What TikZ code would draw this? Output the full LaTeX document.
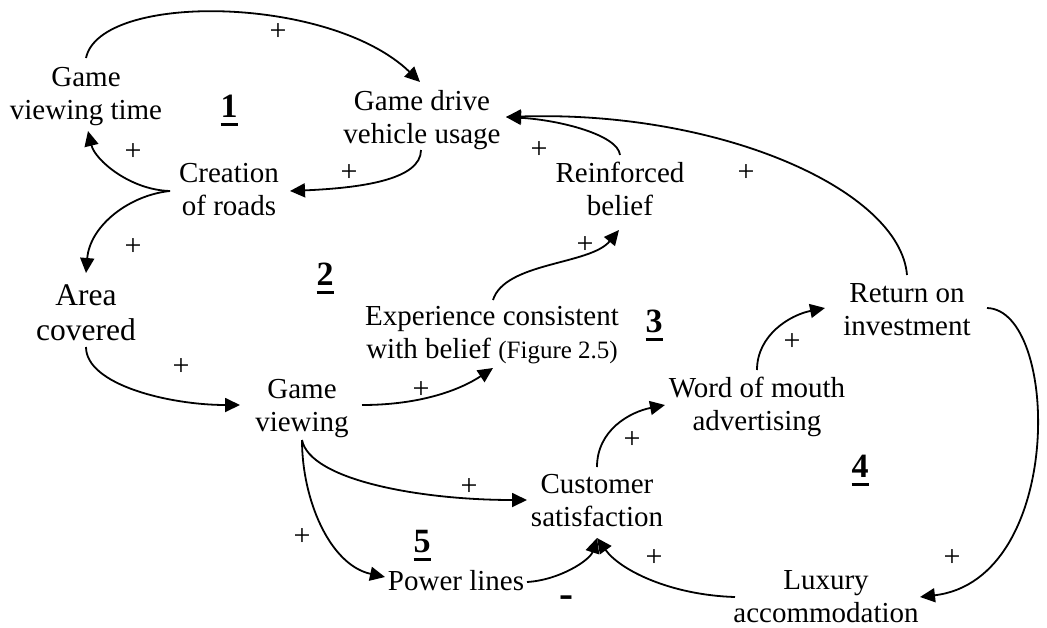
\documentclass[tikz,border=0pt]{standalone}
\usepackage{fontspec}
\setmainfont{Liberation Serif}
\usetikzlibrary{arrows.meta}
% two centred lines, the box's baseline is the first line's baseline
\newcommand\twoline[2]{\vtop{\halign{\hfil##\hfil\cr #1\cr #2\cr}}}
% bold loop number with a heavy underline
\newcommand\loopnum[1]{\setbox0\hbox{\textbf{#1}}\rlap{\rule[-8.5pt]{\wd0}{3pt}}\box0}
\begin{document}
\begin{tikzpicture}[x=1pt,y=-1pt,
  var/.style={inner sep=0pt, anchor=base, font=\fontsize{29}{33}\selectfont},
  bigvar/.style={var, font=\fontsize{31.5}{35}\selectfont},
  pol/.style={inner sep=0pt, font=\fontsize{30}{32}\selectfont},
  neg/.style={inner sep=0pt, anchor=base, font=\fontsize{42}{44}\selectfont\bfseries},
  loopid/.style={inner sep=0pt, anchor=base, font=\fontsize{34}{38}\selectfont},
  link/.style={line width=1.8pt, -{Triangle[length=15pt,width=14pt]}},
]
\useasboundingbox (0,0) rectangle (1047,627);

% variables
\node[var]    (gvt) at (86,86)   {\twoline{Game}{viewing time}};
\node[var]    (gdv) at (422,110) {\twoline{Game drive}{vehicle usage}};
\node[var]    (cor) at (229,182) {\twoline{Creation}{of roads}};
\node[bigvar] (ac)  at (86,305)  {\twoline{Area}{covered}};
\node[var]    (rb)  at (620,182) {\twoline{Reinforced}{belief}};
\node[var]    (roi) at (907,302) {\twoline{Return on}{investment}};
\node[var]    (gv)  at (302,398) {\twoline{Game}{viewing}};
\node[var]    (ecb) at (492,325) {\twoline{Experience consistent}{with belief {\fontsize{25}{28}\selectfont(Figure 2.5)}}};
\node[var]    (cs)  at (597,493) {\twoline{Customer}{satisfaction}};
\node[var]    (wom) at (757,397) {\twoline{Word of mouth}{advertising}};
\node[var]    (la)  at (826,589) {\twoline{Luxury}{accommodation}};
\node[var]    (pl)  at (456,590) {Power lines};

% loop numbers
\node[loopid] (l1) at (229,117) {\loopnum{1}};
\node[loopid] (l2) at (325,285) {\loopnum{2}};
\node[loopid] (l3) at (654,332) {\loopnum{3}};
\node[loopid] (l4) at (860,477) {\loopnum{4}};
\node[loopid] (l5) at (422,552) {\loopnum{5}};

% causal links
\draw[link] ([shift={(0,-28)}]gvt.base) .. controls +(14,-66) and +(-90,-87) .. ([shift={(-2,-28)}]gdv.base);
\draw[link] ([shift={(-1,40)}]gdv.base) .. controls +(0,30) and +(70,-3) .. ([shift={(61,9)}]cor.base);
\draw[link] ([shift={(-59,9)}]cor.base) .. controls +(-40,-1) and +(7,29) .. ([shift={(2,45)}]gvt.base);
\draw[link] ([shift={(-59,9)}]cor.base) .. controls +(-40,4) and +(4,-48) .. ([shift={(0,-32)}]ac.base);
\draw[link] ([shift={(0,-27)}]rb.base) .. controls +(-2,-20) and +(54,3) .. ([shift={(84,7)}]gdv.base);
\draw[link] ([shift={(0,-27)}]roi.base) .. controls +(-7,-85) and +(214,-7) .. ([shift={(84,7)}]gdv.base);
\draw[link] ([shift={(1,-25)}]ecb.base) .. controls +(12,-38) and +(-29,35) .. ([shift={(-1,48)}]rb.base);
\draw[link] ([shift={(0,42)}]ac.base) .. controls +(0,38) and +(-70,0) .. ([shift={(-62,7)}]gv.base);
\draw[link] ([shift={(60,7)}]gv.base) .. controls +(58,0) and +(-33,22) .. ([shift={(1,43)}]ecb.base);
\draw[link] ([shift={(0,42)}]gv.base) .. controls +(8,40) and +(-107,0) .. ([shift={(-70,7)}]cs.base);
\draw[link] ([shift={(0,42)}]gv.base) .. controls +(0,60) and +(-55,-12) .. ([shift={(-71,-13)}]pl.base);
\draw[link] ([shift={(71,-8)}]pl.base) .. controls +(33,-2) and +(-7,22) .. ([shift={(0,45)}]cs.base);
\draw[link] ([shift={(-91,8)}]la.base) .. controls +(-65,-2) and +(23,32) .. ([shift={(0,45)}]cs.base);
\draw[link] ([shift={(0,-26)}]cs.base) .. controls +(0,-37) and +(-35,7) .. ([shift={(-92,8)}]wom.base);
\draw[link] ([shift={(0,-27)}]wom.base) .. controls +(0,-35) and +(-35,7) .. ([shift={(-82,6)}]roi.base);
\draw[link] ([shift={(80,6)}]roi.base) .. controls +(73,2) and +(145,-17) .. ([shift={(94,8)}]la.base);

% link polarities
\node[pol] (p1)  at (278,32)  {+};
\node[pol] (p2)  at (349,173) {+};
\node[pol] (p3)  at (133,152) {+};
\node[pol] (p4)  at (133,247) {+};
\node[pol] (p5)  at (539,150) {+};
\node[pol] (p6)  at (746,173) {+};
\node[pol] (p7)  at (585,245) {+};
\node[pol] (p8)  at (181,367) {+};
\node[pol] (p9)  at (421,390) {+};
\node[pol] (p10) at (469,487) {+};
\node[pol] (p11) at (302,537) {+};
\node[pol] (p12) at (632,440) {+};
\node[pol] (p13) at (792,342) {+};
\node[pol] (p14) at (952,558) {+};
\node[pol] (p15) at (654,558) {+};
\node[neg] (m1)  at (566,607) {-};
\end{tikzpicture}
\end{document}
